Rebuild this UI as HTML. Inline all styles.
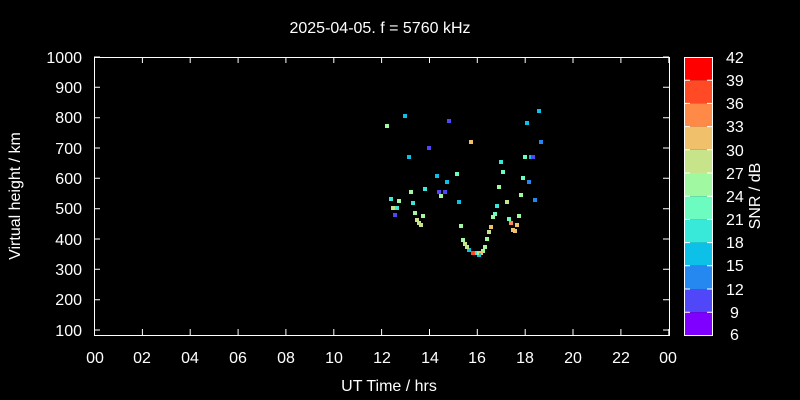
<!DOCTYPE html><html><head><style>body{margin:0;background:#000}svg{display:block}text{font-family:"Liberation Sans",sans-serif;fill:#fff}</style></head><body>
<svg width="800" height="400" viewBox="0 0 800 400">
<rect width="800" height="400" fill="#000"/>
<text x="380" y="33" font-size="16" text-anchor="middle">2025-04-05. f = 5760 kHz</text>
<text x="389" y="391" font-size="16" text-anchor="middle">UT Time / hrs</text>
<text transform="translate(20,196) rotate(-90)" font-size="16" text-anchor="middle">Virtual height / km</text>
<g stroke="#fff" stroke-width="1" fill="none">
<rect x="94.5" y="57.5" width="575" height="278"/>
<path d="M94 57h6M94 87.3h6M94 117.7h6M94 148h6M94 178.3h6M94 208.7h6M94 239h6M94 269.3h6M94 299.7h6M94 330h6M669 57h-6M669 87.3h-6M669 117.7h-6M669 148h-6M669 178.3h-6M669 208.7h-6M669 239h-6M669 269.3h-6M669 299.7h-6M669 330h-6"/>
<path d="M94.5 335v-6M142.4 335v-6M190.2 335v-6M238.1 335v-6M285.9 335v-6M333.8 335v-6M381.6 335v-6M429.5 335v-6M477.3 335v-6M525.2 335v-6M573 335v-6M620.9 335v-6M668.8 335v-6M94.5 57v6M142.4 57v6M190.2 57v6M238.1 57v6M285.9 57v6M333.8 57v6M381.6 57v6M429.5 57v6M477.3 57v6M525.2 57v6M573 57v6M620.9 57v6M668.8 57v6"/>
</g>
<g font-size="16" text-anchor="end">
<text x="82" y="63">1000</text><text x="82" y="93">900</text><text x="82" y="123">800</text><text x="82" y="154">700</text><text x="82" y="184">600</text><text x="82" y="214">500</text><text x="82" y="245">400</text><text x="82" y="275">300</text><text x="82" y="305">200</text><text x="82" y="336">100</text>
</g>
<g font-size="16" text-anchor="middle">
<text x="95" y="363">00</text><text x="142" y="363">02</text><text x="190" y="363">04</text><text x="238" y="363">06</text><text x="286" y="363">08</text><text x="334" y="363">10</text><text x="382" y="363">12</text><text x="430" y="363">14</text><text x="477" y="363">16</text><text x="525" y="363">18</text><text x="573" y="363">20</text><text x="621" y="363">22</text><text x="668" y="363">00</text>
</g>
<rect x="685" y="57" width="27" height="23.2" fill="#ff0000"/>
<rect x="685" y="80.2" width="27" height="23.2" fill="#ff4a25"/>
<rect x="685" y="103.4" width="27" height="23.2" fill="#ff8a48"/>
<rect x="685" y="126.6" width="27" height="23.2" fill="#f0c06a"/>
<rect x="685" y="149.8" width="27" height="23.2" fill="#c8e48a"/>
<rect x="685" y="173" width="27" height="23.2" fill="#a0f8a0"/>
<rect x="685" y="196.2" width="27" height="23.2" fill="#6cfcc0"/>
<rect x="685" y="219.4" width="27" height="23.2" fill="#38e8d8"/>
<rect x="685" y="242.6" width="27" height="23.2" fill="#0cc0e8"/>
<rect x="685" y="265.8" width="27" height="23.2" fill="#2488f0"/>
<rect x="685" y="289" width="27" height="23.2" fill="#5048f8"/>
<rect x="685" y="312.2" width="27" height="23" fill="#8000ff"/>
<rect x="684.5" y="57.5" width="28" height="278" fill="none" stroke="#fff"/>
<g stroke="#fff"><path d="M707 80.2h5M707 103.4h5M707 126.6h5M707 149.8h5M707 173h5M707 196.2h5M707 219.4h5M707 242.6h5M707 265.8h5M707 289h5M707 312.2h5M685 80.2h5M685 103.4h5M685 126.6h5M685 149.8h5M685 173h5M685 196.2h5M685 219.4h5M685 242.6h5M685 265.8h5M685 289h5M685 312.2h5"/></g>
<g font-size="16">
<text x="726" y="63">42</text><text x="726" y="86">39</text><text x="726" y="109">36</text><text x="726" y="132">33</text><text x="726" y="156">30</text><text x="726" y="179">27</text><text x="726" y="202">24</text><text x="726" y="225">21</text><text x="726" y="248">18</text><text x="726" y="271">15</text><text x="726" y="295">12</text><text x="730" y="318">9</text><text x="730" y="340">6</text>
</g>
<text transform="translate(760,196) rotate(-90)" font-size="16" text-anchor="middle">SNR / dB</text>
<g>
<rect x="385" y="124" width="4" height="4" fill="#a0f8a0"/>
<rect x="403" y="114" width="4" height="4" fill="#0cc0e8"/>
<rect x="447" y="119" width="4" height="4" fill="#5048f8"/>
<rect x="427" y="146" width="4" height="4" fill="#5048f8"/>
<rect x="469" y="140" width="4" height="4" fill="#f0c06a"/>
<rect x="407" y="155" width="4" height="4" fill="#0cc0e8"/>
<rect x="537" y="109" width="4" height="4" fill="#0cc0e8"/>
<rect x="525" y="121" width="4" height="4" fill="#0cc0e8"/>
<rect x="539" y="140" width="4" height="4" fill="#2488f0"/>
<rect x="499" y="160" width="4" height="4" fill="#38e8d8"/>
<rect x="523" y="155" width="4" height="4" fill="#6cfcc0"/>
<rect x="529" y="155" width="4" height="4" fill="#0cc0e8"/>
<rect x="531" y="155" width="4" height="4" fill="#5048f8"/>
<rect x="501" y="170" width="4" height="4" fill="#6cfcc0"/>
<rect x="455" y="172" width="4" height="4" fill="#6cfcc0"/>
<rect x="435" y="174" width="4" height="4" fill="#0cc0e8"/>
<rect x="445" y="180" width="4" height="4" fill="#0cc0e8"/>
<rect x="521" y="176" width="4" height="4" fill="#6cfcc0"/>
<rect x="527" y="180" width="4" height="4" fill="#2488f0"/>
<rect x="497" y="185" width="4" height="4" fill="#a0f8a0"/>
<rect x="423" y="187" width="4" height="4" fill="#38e8d8"/>
<rect x="409" y="190" width="4" height="4" fill="#a0f8a0"/>
<rect x="437" y="190" width="4" height="4" fill="#5048f8"/>
<rect x="443" y="190" width="4" height="4" fill="#5048f8"/>
<rect x="439" y="194" width="4" height="4" fill="#a0f8a0"/>
<rect x="519" y="193" width="4" height="4" fill="#a0f8a0"/>
<rect x="389" y="197" width="4" height="4" fill="#38e8d8"/>
<rect x="397" y="199" width="4" height="4" fill="#a0f8a0"/>
<rect x="411" y="201" width="4" height="4" fill="#38e8d8"/>
<rect x="457" y="200" width="4" height="4" fill="#0cc0e8"/>
<rect x="505" y="200" width="4" height="4" fill="#c8e48a"/>
<rect x="533" y="198" width="4" height="4" fill="#2488f0"/>
<rect x="391" y="206" width="4" height="4" fill="#c8e48a"/>
<rect x="395" y="206" width="4" height="4" fill="#38e8d8"/>
<rect x="495" y="204" width="4" height="4" fill="#38e8d8"/>
<rect x="393" y="213" width="4" height="4" fill="#5048f8"/>
<rect x="413" y="211" width="4" height="4" fill="#a0f8a0"/>
<rect x="421" y="214" width="4" height="4" fill="#a0f8a0"/>
<rect x="415" y="218" width="4" height="4" fill="#c8e48a"/>
<rect x="417" y="221" width="4" height="4" fill="#c8e48a"/>
<rect x="419" y="223" width="4" height="4" fill="#c8e48a"/>
<rect x="493" y="212" width="4" height="4" fill="#6cfcc0"/>
<rect x="491" y="215" width="4" height="4" fill="#a0f8a0"/>
<rect x="517" y="214" width="4" height="4" fill="#a0f8a0"/>
<rect x="507" y="217" width="4" height="4" fill="#6cfcc0"/>
<rect x="509" y="221" width="4" height="4" fill="#ff8a48"/>
<rect x="515" y="223" width="4" height="4" fill="#f0c06a"/>
<rect x="511" y="228" width="4" height="4" fill="#f0c06a"/>
<rect x="513" y="229" width="4" height="4" fill="#f0c06a"/>
<rect x="459" y="224" width="4" height="4" fill="#a0f8a0"/>
<rect x="489" y="225" width="4" height="4" fill="#f0c06a"/>
<rect x="487" y="230" width="4" height="4" fill="#c8e48a"/>
<rect x="485" y="237" width="4" height="4" fill="#a0f8a0"/>
<rect x="483" y="245" width="4" height="4" fill="#a0f8a0"/>
<rect x="481" y="249" width="4" height="4" fill="#a0f8a0"/>
<rect x="479" y="251" width="4" height="4" fill="#f0c06a"/>
<rect x="477" y="253" width="4" height="4" fill="#0cc0e8"/>
<rect x="475" y="251" width="4" height="4" fill="#c8e48a"/>
<rect x="473" y="251" width="4" height="4" fill="#38e8d8"/>
<rect x="471" y="251" width="4" height="4" fill="#ff4a25"/>
<rect x="467" y="248" width="4" height="4" fill="#0cc0e8"/>
<rect x="465" y="245" width="4" height="4" fill="#c8e48a"/>
<rect x="463" y="242" width="4" height="4" fill="#c8e48a"/>
<rect x="461" y="238" width="4" height="4" fill="#a0f8a0"/>
</g>
</svg></body></html>
